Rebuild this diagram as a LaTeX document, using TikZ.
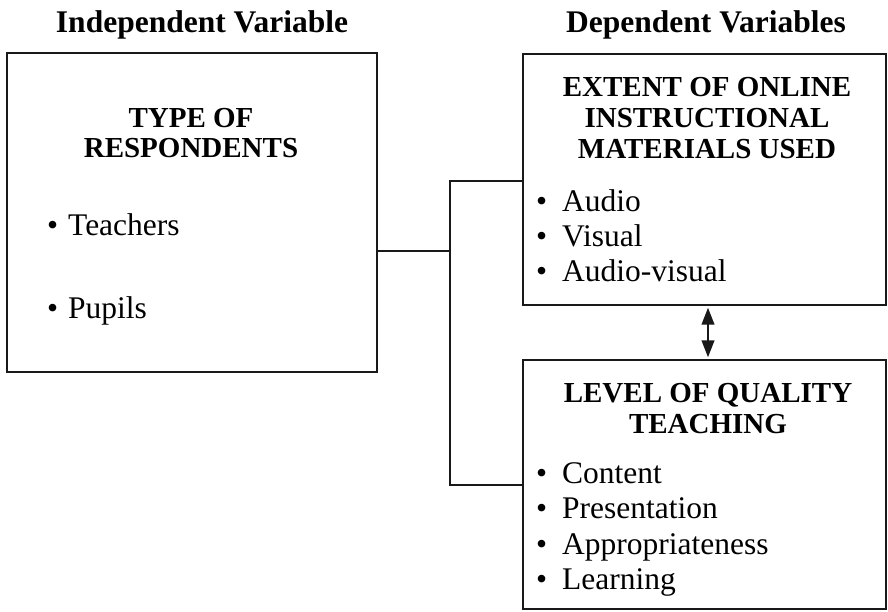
\documentclass[tikz,border=0pt]{standalone}
\usepackage{fontspec}
\setmainfont{Liberation Serif}
\usetikzlibrary{arrows.meta}
\newcommand\bulw[1]{\makebox[#1][l]{\textbullet}}
\tikzset{
  frame/.style={draw=black!90, line width=2.3pt, rectangle, inner sep=0pt},
  link/.style={draw=black!90, line width=2.2pt},
  twoway/.style={draw=black!90, line width=2.4pt, shorten <=1.5pt, shorten >=1.5pt,
    {Triangle[length=17pt,width=12.5pt]}-{Triangle[length=17pt,width=12.5pt]}},
  heading/.style={anchor=base, inner sep=0pt, font=\fontsize{31.5}{35}\selectfont\bfseries},
  boxtitle/.style={anchor=base, inner sep=0pt, font=\fontsize{29}{31}\selectfont\bfseries},
  item/.style={anchor=base west, inner sep=0pt, font=\fontsize{31.5}{35}\selectfont},
}
\begin{document}
\begin{tikzpicture}[x=1pt,y=1pt]
  \useasboundingbox (0,0) rectangle (888,-611);

  % column headings
  \node[heading] (hind) at (202,-32) {Independent Variable};
  \node[heading] (hdep) at (706,-32) {Dependent Variables};

  % boxes
  \node[frame, minimum width=370pt, minimum height=319pt] (resp) at (192,-212.5) {};
  \node[frame, minimum width=363pt, minimum height=251pt] (mat) at (704.5,-179.5) {};
  \node[frame, minimum width=363pt, minimum height=249pt] (qual) at (704.5,-484.5) {};

  % independent variable
  \node[boxtitle] (r1) at (191,-127) {TYPE OF};
  \node[boxtitle] (r2) at (191,-157) {RESPONDENTS};
  \node[item] (r3) at (47,-235) {\bulw{21pt}Teachers};
  \node[item] (r4) at (47,-318) {\bulw{21pt}Pupils};

  % online instructional materials
  \node[boxtitle] (m1) at (707,-96) {EXTENT OF ONLINE};
  \node[boxtitle] (m2) at (707,-127) {INSTRUCTIONAL};
  \node[boxtitle] (m3) at (707,-158) {MATERIALS USED};
  \node[item] (m4) at (536,-211) {\bulw{26pt}Audio};
  \node[item] (m5) at (536,-246.5) {\bulw{26pt}Visual};
  \node[item] (m6) at (536,-281) {\bulw{26pt}Audio-visual};

  % quality teaching
  \node[boxtitle] (q1) at (708,-402) {LEVEL OF QUALITY};
  \node[boxtitle] (q2) at (708,-433) {TEACHING};
  \node[item] (q3) at (536,-483) {\bulw{26pt}Content};
  \node[item] (q4) at (536,-518) {\bulw{26pt}Presentation};
  \node[item] (q5) at (536,-554) {\bulw{26pt}Appropriateness};
  \node[item] (q6) at (536,-589) {\bulw{26pt}Learning};

  % connectors
  \coordinate (join) at (450,-251);
  \coordinate (jtop) at (450,-181);
  \coordinate (jbot) at (450,-485);
  \coordinate (ax) at (708,0);
  \draw[link] (resp.east |- join) -- (join);
  \draw[link] (jtop -| mat.west) -- (jtop) -- (jbot) -- (jbot -| qual.west);
  \draw[twoway] (mat.south -| ax) -- (qual.north -| ax);
\end{tikzpicture}
\end{document}
